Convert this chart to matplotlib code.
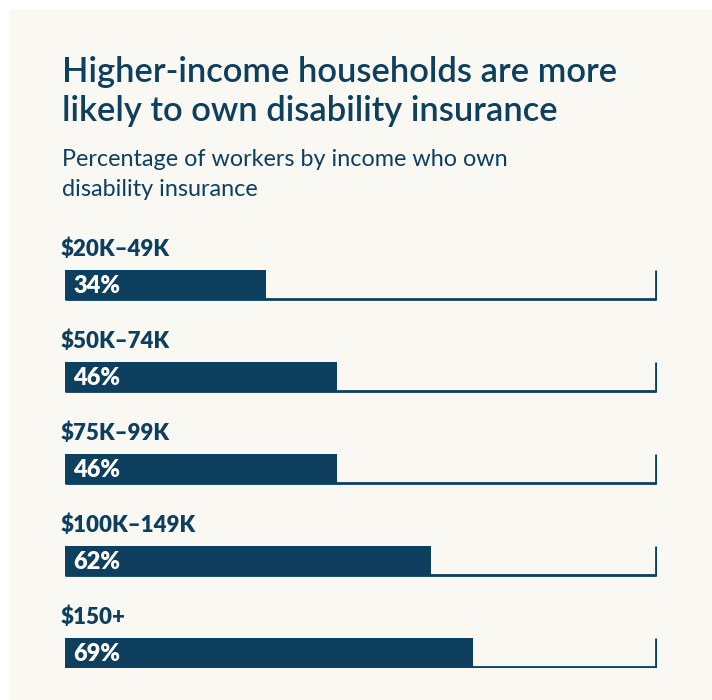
import matplotlib.pyplot as plt
from matplotlib.patches import Rectangle

# data
groups = ['$20K–49K', '$50K–74K', '$75K–99K', '$100K–149K', '$150+']
shares = [34, 46, 46, 62, 69]

navy = '#0e3f5e'
cream = '#f9f8f2'
font = ['Lato', 'DejaVu Sans']

fig = plt.figure(figsize=(7.12, 7.0), dpi=100)
fig.patch.set_facecolor('white')
fig.patches.append(Rectangle((10 / 712, 0), 1, 1 - 9 / 700, transform=fig.transFigure,
                             facecolor=cream, edgecolor='none', zorder=-5))

fig.text(62 / 712, 1 - 82 / 700, 'Higher-income households are more',
         fontsize=24.8, fontweight='semibold', color=navy, family=font, va='baseline')
fig.text(62 / 712, 1 - 121 / 700, 'likely to own disability insurance',
         fontsize=24.8, fontweight='semibold', color=navy, family=font, va='baseline')
fig.text(62 / 712, 1 - 166 / 700, 'Percentage of workers by income who own',
         fontsize=16.8, color=navy, family=font, va='baseline')
fig.text(62 / 712, 1 - 196 / 700, 'disability insurance',
         fontsize=16.8, color=navy, family=font, va='baseline')

h = 30 / 92
ax = fig.add_axes([65 / 712, 1 - 668 / 700, 592 / 712, 398 / 700])
ax.set_facecolor('none')
ypos = list(range(len(groups)))
ax.barh(ypos, shares, height=h, color=navy, align='center')
ax.hlines([y + h / 2 - 0.01 for y in ypos], 0, 100, color=navy, linewidth=2)
ax.vlines([100] * len(ypos), [y - h / 2 for y in ypos], [y + h / 2 for y in ypos],
          color=navy, linewidth=2)

for y, g, s in zip(ypos, groups, shares):
    ax.text(-0.7, y - h / 2 - 0.155, g, fontsize=16, fontweight='heavy',
            color=navy, family=font, va='baseline', ha='left', clip_on=False)
    ax.text(1.4, y + 0.01, f'{s}%', fontsize=17, fontweight='heavy', color='white',
            family=font, va='center', ha='left')

ax.set_xlim(0, 100.2)
ax.set_ylim(len(groups) - 1 + h / 2, -h / 2)
ax.axis('off')

fig.savefig('out.png', dpi=100, facecolor=fig.get_facecolor())
